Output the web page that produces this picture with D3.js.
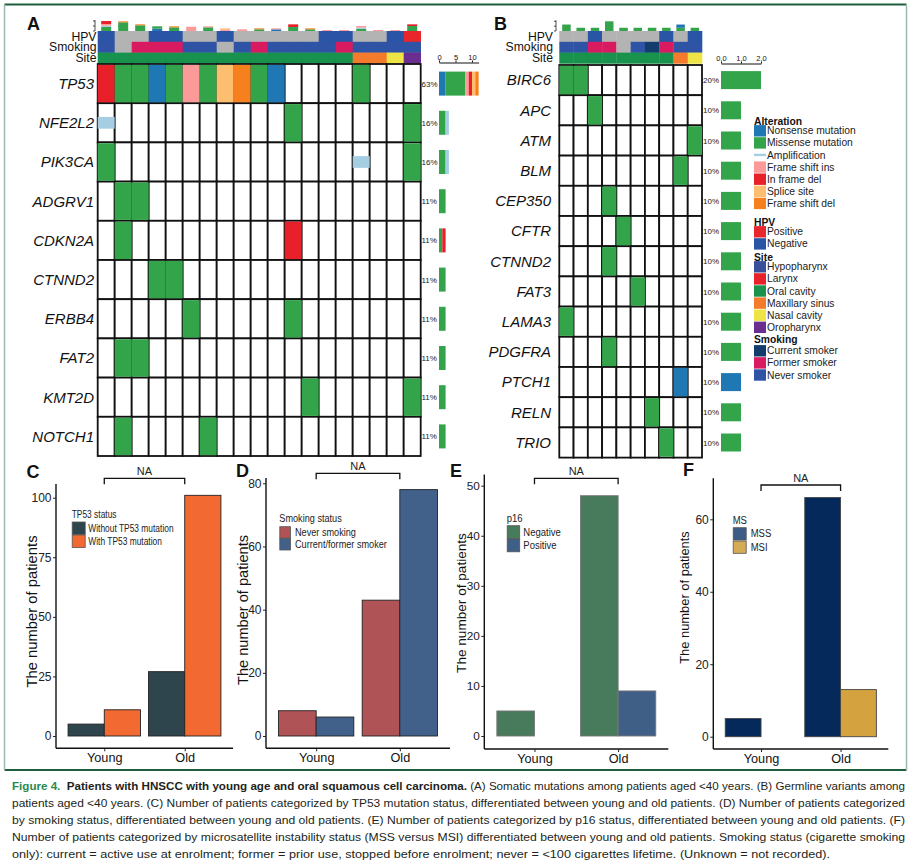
<!DOCTYPE html>
<html><head><meta charset="utf-8">
<script src="https://cdn.jsdelivr.net/npm/d3@7/dist/d3.min.js"></script>
<style>body{margin:0;background:#fff}svg{display:block}</style>
</head><body><svg id="c" width="915" height="861"></svg>
<script>
// ================= DATA =================
const altTypes  = ["Nonsense mutation","Missense mutation","Amplification","Frame shift ins","In frame del","Splice site","Frame shift del"];
const altCodes  = ["N","M","A","I","D","S","F"];
const altColors = ["#1f78b4","#33a44a","#a6cee3","#fb9a99","#e8202a","#fdbf6f","#f7801e"];

// Panel A (somatic)
const genesA = ["TP53","NFE2L2","PIK3CA","ADGRV1","CDKN2A","CTNND2","ERBB4","FAT2","KMT2D","NOTCH1"];
const pctA   = ["63%","16%","16%","11%","11%","11%","11%","11%","11%","11%"];
const matA = [
 "DMMNMIMSFMN....M...",
 "A..........M......M",
 "M..............A..M",
 ".MM................",
 ".M.........D.......",
 "...MM..............",
 ".....M.....M.......",
 ".MM................",
 "............M.....M",
 ".M....M............"
];
const hpvA   = "NUUNNUUNUUUUUNNUUNP";
const smokeA = "NUFFFNNUNFNNNNFNNNN";
const siteA  = "OOOOOOOOOOOOOOOXXYP";
const topA = [
 [["M",12],["A",4],["I",5],["D",9]],[["M",26],["F",3]],[["M",17],["F",3]],[["N",7],["M",7]],
 [["M",11],["F",3]],[["I",13]],[["M",11],["I",3]],[["I",5],["S",3]],[["I",5]],[["M",5],["F",3]],
 [["N",5],["I",3]],[["M",12],["D",8]],[["M",5],["F",3]],[["I",3]],[["I",3]],
 [["M",6],["A",4],["I",5]],[["I",3]],[["I",3]],[["M",15],["D",5]]
];
const sideTicksA = [0,5,10];

// Panel B (germline)
const genesB = ["BIRC6","APC","ATM","BLM","CEP350","CFTR","CTNND2","FAT3","LAMA3","PDGFRA","PTCH1","RELN","TRIO"];
const pctB   = ["20%","10%","10%","10%","10%","10%","10%","10%","10%","10%","10%","10%","10%"];
const matB = [
 "MM........","..M.......",".........M","........M.","...M......","....M.....",
 "...M......",".....M....","M.........","...M......","........N.","......M...",".......M.."
];
const hpvB   = "UUNUUUUNUN";
const smokeB = "NNFFUNCFNN";
const siteB  = "OOOOOOOOXY";
const topB = [[["M",2]],[["M",1]],[["M",1]],[["M",3]],[["M",1]],[["M",1]],[["M",1]],[["M",1]],[["M",1],["N",1]],[["M",1]]];
const sideTicksB = [0,1,2];

// Annotation colours / legend
const hpvLabels = ["Positive","Negative"], hpvKeys = ["P","N"], hpvCols = ["#e8262c","#2a55a6"];
const siteLabels = ["Hypopharynx","Larynx","Oral cavity","Maxillary sinus","Nasal cavity","Oropharynx"];
const siteKeys = ["H","L","O","X","Y","P"];
const siteCols = ["#3a4f9a","#e8202a","#18924c","#f47b2c","#eee445","#6b2d90"];
const smokeLabels = ["Current smoker","Former smoker","Never smoker"], smokeKeys = ["C","F","N"];
const smokeCols = ["#113c6b","#d81b60","#2f54a5"];
const unknownCol = "#b3b3b3";

// Bar panels C-F
const groups = ["Young","Old"];
const seriesC = ["Without TP53 mutation","With TP53 mutation"];
const withoutTP53 = [5,27], withTP53 = [11,101];
const ticksC = [0,25,50,75,100];
const seriesD = ["Never smoking","Current/former smoker"];
const neverSmoking = [8,43], currentFormer = [6,78];
const ticksD = [0,20,40,60,80];
const seriesE = ["Negative","Positive"];
const p16Neg = [5,48], p16Pos = [0,9];
const ticksE = [0,10,20,30,40,50];
const seriesF = ["MSS","MSI"];
const mss = [5,66], msi = [0,13];
const ticksF = [0,20,40,60];

const caption = [
 [["Figure 4.","fig"],["  Patients with HNSCC with young age and oral squamous cell carcinoma.","b"],[" (A) Somatic mutations among patients aged <40 years. (B) Germline variants among","n"]],
 [["patients aged <40 years. (C) Number of patients categorized by TP53 mutation status, differentiated between young and old patients. (D) Number of patients categorized","n"]],
 [["by smoking status, differentiated between young and old patients. (E) Number of patients categorized by p16 status, differentiated between young and old patients. (F)","n"]],
 [["Number of patients categorized by microsatellite instability status (MSS versus MSI) differentiated between young and old patients. Smoking status (cigarette smoking","n"]],
 [["only): current = active use at enrolment; former = prior use, stopped before enrolment; never = <100 cigarettes lifetime. (Unknown = not recorded).","n"]]
];

// ================= DRAWING =================
const FONT = '"Liberation Sans", Arial, Helvetica, sans-serif';
const svg = d3.select("#c");
const colOf = c => altColors[altCodes.indexOf(c)];
const mapOf = (keys, cols) => k => { const i = keys.indexOf(k); return i < 0 ? unknownCol : cols[i]; };
const hpvMap = mapOf(hpvKeys, hpvCols), smokeMap = mapOf(smokeKeys, smokeCols), siteMap = mapOf(siteKeys, siteCols);

function squeeze(sel, f){ sel.each(function(){ const L = this.getComputedTextLength(); d3.select(this).attr("textLength", L*f).attr("lengthAdjust","spacingAndGlyphs"); }); }
function txt(g, x, y, s, o={}){
  return g.append("text").attr("x",x).attr("y",y).text(s)
    .attr("font-family",FONT).attr("font-size",o.fs||12).attr("fill",o.fill||"#111")
    .attr("font-weight",o.fw||"normal").attr("font-style",o.fst||"normal").attr("text-anchor",o.anchor||"start");
}

// frame
svg.append("line").attr("x1",4.5).attr("x2",906.5).attr("y1",4.5).attr("y2",4.5).attr("stroke","#1d5e3c").attr("stroke-width",2);
svg.append("line").attr("x1",4.5).attr("x2",906.5).attr("y1",770).attr("y2",770).attr("stroke","#1d5e3c").attr("stroke-width",2);
svg.append("line").attr("x1",4.5).attr("x2",4.5).attr("y1",4.5).attr("y2",770).attr("stroke","#9bbcaa").attr("stroke-width",1.5);
svg.append("line").attr("x1",906.5).attr("x2",906.5).attr("y1",4.5).attr("y2",770).attr("stroke","#9bbcaa").attr("stroke-width",1.5);

function oncoplot(o){
  const g = svg.append("g");
  const nC = o.mat[0].length;
  const x = d3.scaleBand().domain(d3.range(nC)).range([o.x0, o.x0 + nC*o.colW]);
  const y = d3.scaleBand().domain(o.genes).range([o.y0, o.y0 + o.genes.length*o.rowH]);
  const cw = x.bandwidth(), rh = y.bandwidth();
  // top bars
  const th = d3.scaleLinear().domain([0,o.topMax]).range([0,o.topPx]);
  o.top.forEach((segs,i)=>{
    let acc = 0;
    segs.forEach(([c,v])=>{
      g.append("rect").attr("x", x(i)+(cw-o.barW)/2).attr("width",o.barW)
        .attr("y", o.topBase - th(acc+v)).attr("height", th(v)).attr("fill", colOf(c));
      acc += v;
    });
  });
  g.append("line").attr("x1",o.topAxX).attr("x2",o.topAxX).attr("y1",o.topBase-o.topPx-1).attr("y2",o.topBase).attr("stroke","#222").attr("stroke-width",0.8);
  [0,0.5,1].forEach(f=> g.append("line").attr("x1",o.topAxX-2).attr("x2",o.topAxX).attr("y1",o.topBase-o.topPx*f).attr("y2",o.topBase-o.topPx*f).attr("stroke","#222").attr("stroke-width",0.8));
  // annotation rows
  const annY = [31, 41.8, 52.6], annH = 10.8;
  [["HPV",o.hpv,hpvMap],["Smoking",o.smoke,smokeMap],["Site",o.site,siteMap]].forEach(([lab,arr,m],r)=>{
    arr.split("").forEach((k,i)=> g.append("rect").attr("x",x(i)).attr("width",cw+0.3).attr("y",annY[r]).attr("height",annH+0.3).attr("fill",m(k)));
    txt(g, o.annLabX, annY[r]+annH/2+4.2, lab, {fs:12.2, anchor:"end", fill:"#111"});
  });
  // grid
  o.genes.forEach((gn,r)=>{
    for(let i=0;i<nC;i++) g.append("rect").attr("x",x(i)).attr("y",y(gn)).attr("width",cw).attr("height",rh).attr("fill","#fff").attr("stroke","#111").attr("stroke-width",1.8);
  });
  o.genes.forEach((gn,r)=>{
    o.mat[r].split("").forEach((c,i)=>{
      if(c===".") return;
      if(c==="A") g.append("rect").attr("x",x(i)).attr("width",cw).attr("y",y(gn)+rh*0.35).attr("height",rh*0.3).attr("fill",colOf(c));
      else g.append("rect").attr("x",x(i)).attr("width",cw).attr("y",y(gn)+0.9).attr("height",rh-1.8).attr("fill",colOf(c));
    });
    txt(g, o.geneX, y(gn)+rh/2+5.3, gn, {fs:15, fst:"italic", anchor:"end"});
    txt(g, o.pctX, y(gn)+rh/2+3, o.pct[r], {fs:8, fill:"#222"});
  });
  // side bars
  const sx = d3.scaleLinear().domain([0, o.sideMax]).range([o.sideX0, o.sideX0 + o.sideMax*o.sideUnit]);
  o.genes.forEach((gn,r)=>{
    let acc = 0;
    altCodes.forEach(c=>{
      const n = o.mat[r].split("").filter(d=>d===c).length;
      if(!n) return;
      g.append("rect").attr("x",sx(acc)).attr("width",sx(acc+n)-sx(acc)).attr("y",y(gn)+(rh-o.sideH)/2).attr("height",o.sideH).attr("fill",colOf(c));
      acc += n;
    });
  });
  const ax = d3.axisTop(sx).tickValues(o.sideTicks).tickSize(2).tickSizeOuter(0).tickPadding(1);
  const ag = g.append("g").attr("transform",`translate(0,${o.sideAxY})`).call(ax);
  ag.selectAll("text").attr("font-family",FONT).attr("font-size",7.5).attr("fill","#111");
  ag.selectAll("path,line").attr("stroke","#111");
  txt(g, o.letterX, 29.5, o.letter, {fs:18, fw:"bold"});
}

oncoplot({letter:"A", letterX:27, mat:matA, genes:genesA, pct:pctA, hpv:hpvA, smoke:smokeA, site:siteA, top:topA,
  x0:97.7, colW:17.0, y0:64, rowH:39.2, topBase:31, topMax:30, topPx:10, barW:10, topAxX:95,
  annLabX:96.5, geneX:94, pctX:421.5, sideX0:439, sideUnit:3.3, sideMax:12, sideH:24, sideTicks:sideTicksA, sideAxY:62.5});
oncoplot({letter:"B", letterX:494, mat:matB, genes:genesB, pct:pctB, hpv:hpvB, smoke:smokeB, site:siteB, top:topB,
  x0:559.3, colW:14.27, y0:65, rowH:30.2, topBase:31, topMax:3, topPx:9.7, barW:8.5, topAxX:556,
  annLabX:553, geneX:551, pctX:703, sideX0:721, sideUnit:20, sideMax:2, sideH:18, sideTicks:sideTicksB, sideAxY:63.5});

// legend (alteration / HPV / site / smoking)
(function(){
  const g = svg.append("g");
  const lx = 754;
  const blocks = [
    {title:"Alteration", ty:124.5, y0:130.7, labels:altTypes, cols:altColors},
    {title:"HPV", ty:225.5, y0:231.7, labels:hpvLabels, cols:hpvCols},
    {title:"Site", ty:260.5, y0:266.7, labels:siteLabels, cols:siteCols},
    {title:"Smoking", ty:343, y0:350.7, labels:smokeLabels, cols:smokeCols}
  ];
  blocks.forEach(b=>{
    txt(g, lx, b.ty, b.title, {fs:10.3, fw:"bold"});
    b.labels.forEach((l,i)=>{
      const cy = b.y0 + i*12.1;
      if(l==="Amplification") g.append("rect").attr("x",lx).attr("y",cy-1.2).attr("width",12).attr("height",2.4).attr("fill",b.cols[i]);
      else g.append("rect").attr("x",lx).attr("y",cy-5.6).attr("width",12).attr("height",11.4).attr("fill",b.cols[i]);
      txt(g, lx+13, cy+3.6, l, {fs:10.3, fill:"#222"});
    });
  });
})();

function barPanel(p){
  const g = svg.append("g");
  const x = d3.scaleLinear().domain([0.4,2.6]).range([p.ax0,p.ax1]);
  const y = d3.scaleLinear().domain([0,p.tickMax]).range([p.y0,p.yTM]);
  const w = 0.45;
  p.values.forEach((vals,si)=>{
    vals.forEach((v,gi)=>{
      if(!v) return;
      const c = gi+1 + (si-0.5)*w;
      g.append("rect").attr("x",x(c-w/2)).attr("width",x(c+w/2)-x(c-w/2)).attr("y",y(v)).attr("height",y(0)-y(v))
        .attr("fill",p.colors[si]).attr("stroke",p.stroke).attr("stroke-width",0.9);
    });
  });
  g.append("line").attr("x1",p.ax0).attr("x2",p.ax0).attr("y1",p.axTop).attr("y2",p.yBot).attr("stroke","#111").attr("stroke-width",1.4);
  g.append("line").attr("x1",p.ax0).attr("x2",p.ax1).attr("y1",p.yBot).attr("y2",p.yBot).attr("stroke","#111").attr("stroke-width",1.4);
  const ya = d3.axisLeft(y).tickValues(p.ticks).tickSize(3).tickPadding(1.5);
  const yg = g.append("g").attr("transform",`translate(${p.ax0},0)`).call(ya);
  yg.select(".domain").remove();
  yg.selectAll("text").attr("font-family",FONT).attr("font-size",p.tickFs).attr("fill","#222");
  yg.selectAll("line").attr("stroke","#222");
  const xa = d3.axisBottom(x).tickValues([1,2]).tickFormat(i=>groups[i-1]).tickSize(3).tickPadding(2);
  const xg = g.append("g").attr("transform",`translate(0,${p.yBot})`).call(xa);
  xg.select(".domain").remove();
  xg.selectAll("text").attr("font-family",FONT).attr("font-size",p.xFs).attr("fill","#111");
  xg.selectAll("line").attr("stroke","#222");
  // y label
  g.append("text").attr("transform",`translate(${p.ylX},${p.ylY}) rotate(-90)`).attr("text-anchor","middle")
    .attr("font-family",FONT).attr("font-size",p.ylFs).attr("fill","#111").text("The number of patients");
  // significance bracket
  const bx1 = x(1), bx2 = x(2), by = p.brY;
  g.append("path").attr("d",`M${bx1},${by+6}V${by}H${bx2}V${by+6}`).attr("fill","none").attr("stroke","#111").attr("stroke-width",1.3);
  txt(g, (bx1+bx2)/2, by-3, "NA", {fs:11, anchor:"middle", fill:"#222"});
  // letter
  txt(g, p.letterX, p.letterY, p.letter, {fs:18, fw:"bold"});
  // legend
  const L = p.leg;
  const t = txt(g, L.x, L.ty, L.title, {fs:L.fs, fill:"#222"});
  squeeze(t, L.sq);
  p.series.forEach((s,i)=>{
    g.append("rect").attr("x",L.x+0.5).attr("y",L.sy[i]).attr("width",L.sw).attr("height",L.sh).attr("fill",(p.legColors||p.colors)[i]).attr("stroke","#555").attr("stroke-width",0.8);
    const tt = txt(g, L.lx, L.sy[i]+L.sh/2+3.6, s, {fs:L.fs, fill:"#222"});
    squeeze(tt, L.sq);
  });
}

barPanel({letter:"C", letterX:26.5, letterY:478, series:seriesC, values:[withoutTP53, withTP53], colors:["#2f454e","#f26a32"], stroke:"#222",
  ax0:56, ax1:233, y0:736, yTM:497.7, tickMax:100, ticks:ticksC, axTop:484, yBot:748.3, tickFs:12, xFs:12.7,
  ylX:37, ylY:611.5, ylFs:14.8, brY:478.3,
  leg:{x:71.7, ty:517.8, title:"TP53 status", sy:[522,535], sw:13, sh:12.5, lx:88.3, fs:10.5, sq:0.8}});
barPanel({letter:"D", letterX:236, letterY:477, series:seriesD, values:[neverSmoking, currentFormer], colors:["#b05357","#41618a"], stroke:"#222",
  ax0:266, ax1:450, y0:736, yTM:483.3, tickMax:80, ticks:ticksD, axTop:478, yBot:748.3, tickFs:12, xFs:12.7,
  ylX:247.5, ylY:610, ylFs:14.6, brY:473.3,
  leg:{x:279.3, ty:522, title:"Smoking status", sy:[526.7,538.5], sw:10.7, sh:11.5, lx:295, fs:10.5, sq:0.87}});
barPanel({letter:"E", letterX:450, letterY:477, series:seriesE, values:[p16Neg, p16Pos], colors:["#487b5c","#405f86"], stroke:"#777",
  ax0:484.3, ax1:668.3, y0:736, yTM:485.7, tickMax:50, ticks:ticksE, axTop:474.5, yBot:749, tickFs:11.8, xFs:12.7,
  ylX:465.5, ylY:603, ylFs:13.6, brY:478.3,
  leg:{x:506.7, ty:521.8, title:"p16", sy:[525.7,539], sw:12.5, sh:12.8, lx:523.3, fs:10, sq:0.95}});
barPanel({letter:"F", letterX:683, letterY:476, series:seriesF, values:[mss, msi], colors:["#05295a","#d4a23f"], legColors:["#3d5d86","#d5ab55"], stroke:"#444",
  ax0:713.3, ax1:888.3, y0:736.7, yTM:519.3, tickMax:60, ticks:ticksF, axTop:478.3, yBot:749, tickFs:12, xFs:12.7,
  ylX:689, ylY:597.5, ylFs:12.9, brY:485,
  leg:{x:732.7, ty:523.5, title:"MS", sy:[527.7,541], sw:13, sh:12.3, lx:750.7, fs:10, sq:0.95}});

// caption
(function(){
  const g = svg.append("g");
  const base = [790, 807, 824, 841, 858];
  caption.forEach((line,i)=>{
    const t = g.append("text").attr("x",12).attr("y",base[i]).attr("font-family",FONT).attr("font-size",11.5).attr("fill","#231f20").attr("xml:space","preserve");
    line.forEach(([s,k])=>{
      const ts = t.append("tspan").text(s);
      if(k==="fig") ts.attr("fill","#2a8a50").attr("font-weight","bold");
      if(k==="b") ts.attr("font-weight","bold");
    });
    t.attr("textLength", i<4 ? 893 : 818).attr("lengthAdjust","spacingAndGlyphs");
  });
})();
</script>
</body></html>
